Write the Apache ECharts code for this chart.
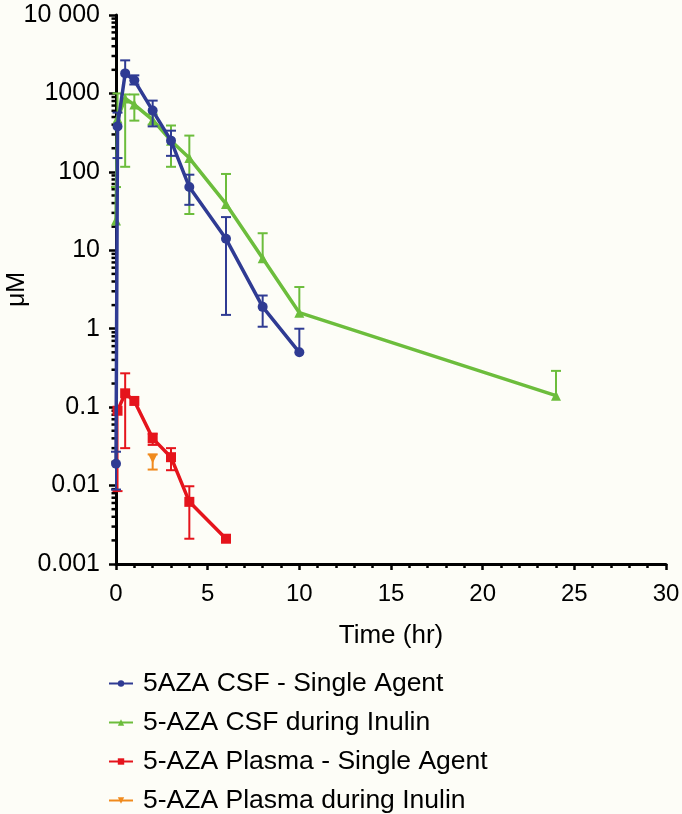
<!DOCTYPE html>
<html>
<head>
<meta charset="utf-8">
<script src="https://cdn.jsdelivr.net/npm/echarts@6/dist/echarts.min.js"></script>
<style>
html,body{margin:0;padding:0;background:#fdfdf7;}
#c{width:682px;height:814px;}
</style>
</head>
<body>
<div id="c"></div>
<script>
// ---- data ----
const seriesNames = ['5AZA CSF - Single Agent', '5-AZA CSF during Inulin', '5-AZA Plasma - Single Agent', '5-AZA Plasma during Inulin'];

const blueT     = [0, 0.083, 0.5, 1, 2, 3, 4, 6, 8, 10];
const blueMean  = [0.019, 380, 1800, 1470, 605, 250, 64, 14, 1.9, 0.5];
const blueUpper = [0.027, 570, 2640, 1700, 810, 335, 92, 26.5, 2.65, 1.0];
const blueLower = [0.0089, 150, null, 1300, 380, 160, 38, 1.5, 1.06, null];

const greenT     = [0, 0.083, 0.5, 1, 2, 3, 4, 6, 8, 10, 24];
const greenMean  = [24, 480, 860, 720, 460, 250, 150, 39, 7.9, 1.6, 0.14];
const greenUpper = [64, 1000, 970, 970, 540, 390, 290, 94, 16.5, 3.4, 0.29];
const greenLower = [null, null, 116, 450, 400, 116, 29, null, null, null, null];

const redT     = [0.083, 0.5, 1, 2, 3, 4, 6];
const redMean  = [0.09, 0.15, 0.12, 0.040, 0.023, 0.0062, 0.0021];
const redUpper = [null, 0.27, null, 0.046, 0.030, 0.0098, null];
const redLower = [0.0085, 0.030, null, 0.033, 0.0157, 0.0021, null];

const orangeT     = [2];
const orangeMean  = [0.022];
const orangeUpper = [0.025];
const orangeLower = [0.016];

const xTicks = [0, 5, 10, 15, 20, 25, 30];
const yTickLabels = ['0.001', '0.01', '0.1', '1', '10', '100', '1000', '10 000'];
const yMinorMultipliers = [2, 3, 4, 5, 6, 7, 8, 9];

// ---- styling ----
const C = { blue: '#2f3b93', green: '#6cbd3c', red: '#e5141c', orange: '#f08a1d' };
const FONT = '"Liberation Sans", Arial, Helvetica, sans-serif';

function pts(t, m) { return t.map((x, i) => [x, m[i]]); }
function errData(t, m, up, lo) {
  return t.map((x, i) => [x, m[i], up[i] == null ? m[i] : up[i], lo[i] == null ? m[i] : lo[i], up[i] != null ? 1 : 0, lo[i] != null ? 1 : 0]);
}
function errSeries(data, color, z) {
  return {
    type: 'custom', silent: true, z: z, clip: false,
    encode: { x: 0, y: [1, 2, 3] },
    data: data,
    renderItem: function (params, api) {
      const x = api.value(0);
      const pM = api.coord([x, api.value(1)]);
      const pU = api.coord([x, api.value(2)]);
      const pL = api.coord([x, api.value(3)]);
      const hasU = api.value(4), hasL = api.value(5);
      const hw = 5;
      const st = { stroke: color, lineWidth: 2 };
      const ch = [];
      if (hasU) {
        ch.push({ type: 'line', shape: { x1: pM[0], y1: pM[1], x2: pU[0], y2: pU[1] }, style: st });
        ch.push({ type: 'line', shape: { x1: pU[0] - hw, y1: pU[1], x2: pU[0] + hw, y2: pU[1] }, style: st });
      }
      if (hasL) {
        ch.push({ type: 'line', shape: { x1: pM[0], y1: pM[1], x2: pL[0], y2: pL[1] }, style: st });
        ch.push({ type: 'line', shape: { x1: pL[0] - hw, y1: pL[1], x2: pL[0] + hw, y2: pL[1] }, style: st });
      }
      return { type: 'group', children: ch };
    }
  };
}

// minor ticks of the log axis (2..9 x 10^k)
const yMinorVals = [];
for (let k = -3; k <= 3; k++) {
  yMinorMultipliers.forEach(m => yMinorVals.push([0, +(m * Math.pow(10, k)).toPrecision(3)]));
}

function lineSeries(name, data, color, symbol, size, z) {
  return {
    name: name, type: 'line', data: data, z: z,
    symbol: symbol, symbolSize: size, showSymbol: true,
    lineStyle: { color: color, width: 3.5 },
    itemStyle: { color: color },
    emphasis: { disabled: true },
    animation: false
  };
}

const chart = echarts.init(document.getElementById('c'), null, { renderer: 'canvas' });
chart.setOption({
  backgroundColor: '#fdfdf7',
  animation: false,
  textStyle: { fontFamily: FONT, color: '#000' },
  grid: { left: 116, right: 16, top: 15, bottom: 250, containLabel: false, outerBoundsMode: 'none' },
  legend: {
    orient: 'vertical', left: 108, top: 670, height: 150, padding: 0,
    itemWidth: 24, itemHeight: 8, itemGap: 12,
    data: seriesNames,
    textStyle: { fontSize: 26.5, lineHeight: 26, fontFamily: FONT, color: '#000', padding: [0, 0, 0, 5] },
    selectedMode: false
  },
  xAxis: {
    type: 'value', min: 0, max: 30, interval: 5,
    name: 'Time (hr)', nameLocation: 'middle', nameGap: 59, nameMoveOverlap: false,
    nameTextStyle: { fontSize: 26, fontFamily: FONT, color: '#000' },
    axisLine: { show: true, lineStyle: { color: '#000', width: 3 } },
    axisTick: { show: true, inside: false, length: 6, lineStyle: { color: '#000', width: 2.5 } },
    minorTick: { show: true, splitNumber: 5, length: 4, lineStyle: { color: '#000', width: 2.5 } },
    splitLine: { show: false },
    axisLabel: { fontSize: 24, color: '#000', margin: 18, fontFamily: FONT,
      formatter: v => xTicks.indexOf(v) >= 0 ? String(v) : '' }
  },
  yAxis: {
    type: 'log', logBase: 10, min: 0.001, max: 10000, splitNumber: 7,
    name: 'μM', nameLocation: 'middle', nameGap: 86, nameRotate: 90, nameMoveOverlap: false,
    nameTextStyle: { fontSize: 25, fontFamily: FONT, color: '#000' },
    axisLine: { show: true, lineStyle: { color: '#000', width: 3 } },
    axisTick: { show: true, inside: false, length: 7, lineStyle: { color: '#000', width: 2.5 } },
    minorTick: { show: false },
    splitLine: { show: false },
    axisLabel: { fontSize: 25, color: '#000', margin: 16, fontFamily: FONT,
      formatter: v => {
        const i = Math.round(Math.log10(v)) + 3;
        return yTickLabels[i] !== undefined ? yTickLabels[i] : '';
      } }
  },
  series: [
    {
      type: 'custom', silent: true, clip: false, z: 1,
      data: yMinorVals,
      renderItem: function (params, api) {
        const p = api.coord([api.value(0), api.value(1)]);
        return { type: 'line', shape: { x1: p[0] - 4.5, y1: p[1], x2: p[0], y2: p[1] }, style: { stroke: '#000', lineWidth: 2.5 } };
      }
    },
    errSeries(errData(greenT, greenMean, greenUpper, greenLower), C.green, 2),
    lineSeries(seriesNames[1], pts(greenT, greenMean), C.green, 'triangle', 10, 3),
    errSeries(errData(redT, redMean, redUpper, redLower), C.red, 4),
    lineSeries(seriesNames[2], pts(redT, redMean), C.red, 'rect', 10, 5),
    errSeries(errData(orangeT, orangeMean, orangeUpper, orangeLower), C.orange, 4),
    {
      name: seriesNames[3], type: 'line', data: pts(orangeT, orangeMean), z: 5,
      symbol: 'triangle', symbolRotate: 180, symbolSize: 9,
      lineStyle: { color: C.orange, width: 3.5 }, itemStyle: { color: C.orange },
      emphasis: { disabled: true }
    },
    errSeries(errData(blueT, blueMean, blueUpper, blueLower), C.blue, 6),
    lineSeries(seriesNames[0], pts(blueT, blueMean), C.blue, 'circle', 10, 7)
  ]
});
</script>
</body>
</html>
